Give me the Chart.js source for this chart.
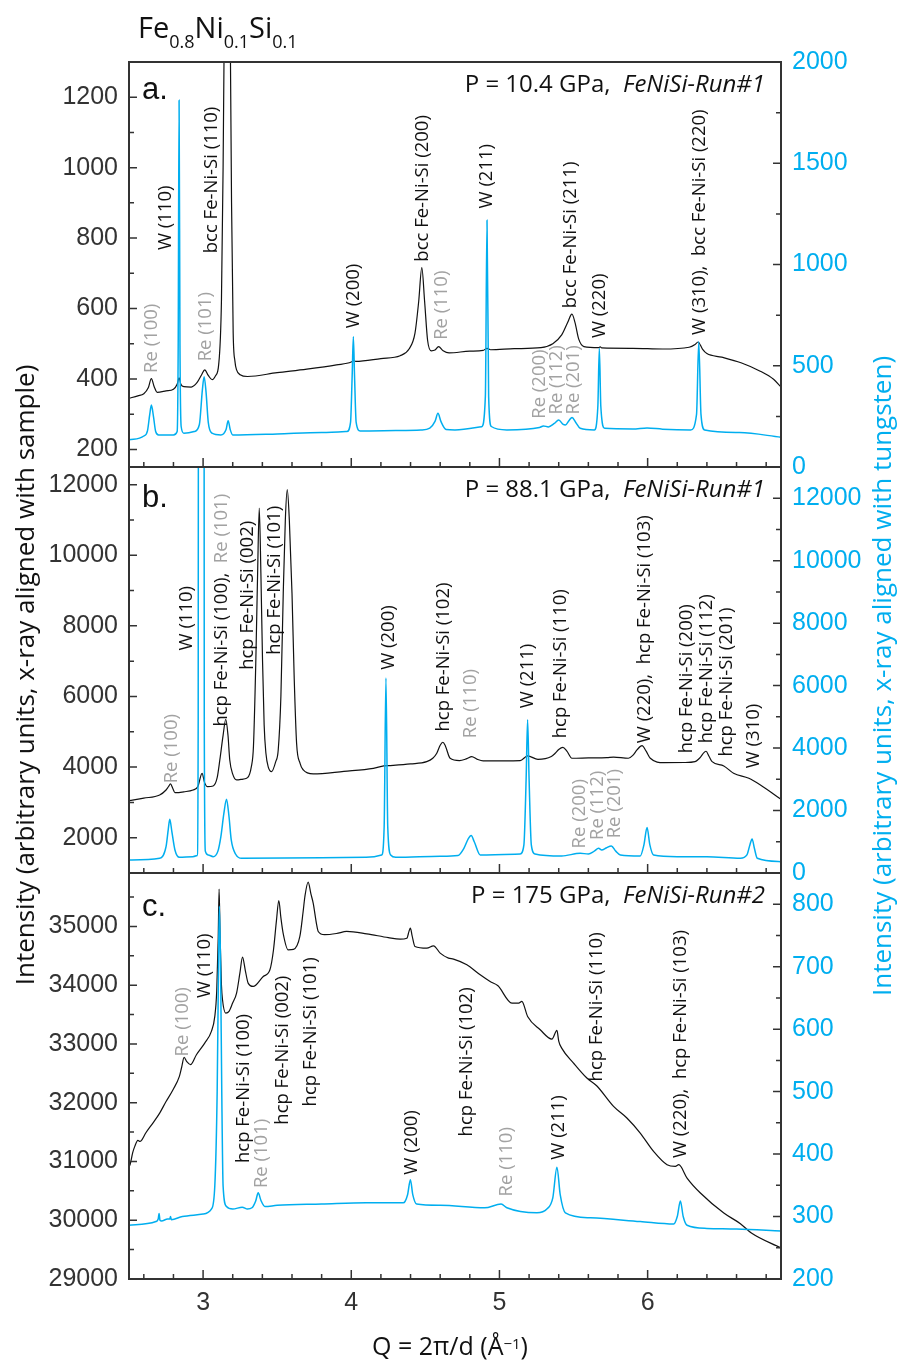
<!DOCTYPE html>
<html>
<head>
<meta charset="utf-8">
<script src="https://cdn.jsdelivr.net/npm/chart.js@4.4.0/dist/chart.umd.min.js"></script>
<style>
  html, body { margin: 0; padding: 0; background: #fff; }
  #page { position: relative; width: 897px; height: 1360px; overflow: hidden; background: #fff; font-family: "Open Sans", sans-serif; }
  canvas.pane { position: absolute; left: 0; }
  #title { position: absolute; left: 138px; top: 12px; font-size: 29px; line-height: 29px; color: #111; white-space: nowrap; }
  #title span { font-size: 18px; position: relative; top: 10px; }
  .ytitle { position: absolute; width: 720px; height: 26px; line-height: 26px; font-size: 26px; text-align: center; transform: rotate(-90deg); white-space: nowrap; }
  #xtitle { position: absolute; left: 250px; width: 400px; top: 1333px; font-size: 25px; line-height: 25px; text-align: center; color: #111; }
  #xtitle sup { font-size: 15px; position: relative; top: -2px; vertical-align: top; }
</style>
</head>
<body>
<div id="page">
  <canvas id="cvA" class="pane" width="897" height="465" style="top:32px"></canvas>
  <canvas id="cvB" class="pane" width="897" height="466" style="top:437px"></canvas>
  <canvas id="cvC" class="pane" width="897" height="517" style="top:843px"></canvas>
  <div id="title">Fe<span>0.8</span>Ni<span>0.1</span>Si<span>0.1</span></div>
  <div class="ytitle" style="left:-336px; top:662px; color:#111;">Intensity (arbitrary units, x-ray aligned with sample)</div>
  <div class="ytitle" style="left:521px; top:663px; color:#00aeef;">Intensity (arbitrary units, x-ray aligned with tungsten)</div>
  <div id="xtitle">Q = 2π/d (Å<sup>−1</sup>)</div>
</div>
<script>
// ---------- shared Q axis ----------
const qRange = [2.5, 6.9];
const qTicks = [3, 4, 5, 6];
const qMinorTicks = [2.6, 2.8, 3.2, 3.4, 3.6, 3.8, 4.2, 4.4, 4.6, 4.8, 5.2, 5.4, 5.6, 5.8, 6.2, 6.4, 6.6, 6.8];

// ---------- panel a: P = 10.4 GPa ----------
const qA_sample = [2.50, 2.56, 2.60, 2.63, 2.651, 2.67, 2.69, 2.75, 2.80, 2.825, 2.838, 2.85, 2.87, 2.92, 2.96, 2.99, 3.011, 3.035, 3.061, 3.085, 3.105, 3.124, 3.135, 3.145, 3.163, 3.183, 3.192, 3.203, 3.215, 3.226, 3.25, 3.30, 3.50, 3.70, 3.90, 4.00, 4.014, 4.03, 4.20, 4.33, 4.39, 4.43, 4.455, 4.476, 4.495, 4.515, 4.54, 4.565, 4.589, 4.62, 4.66, 4.80, 4.89, 4.916, 4.94, 5.10, 5.28, 5.36, 5.42, 5.46, 5.489, 5.51, 5.535, 5.57, 5.67, 5.68, 5.69, 5.90, 6.10, 6.28, 6.32, 6.34, 6.37, 6.40, 6.50, 6.63, 6.76, 6.85, 6.90];
const iA_sample = [345, 352, 358, 375, 401, 378, 362, 366, 371, 385, 403, 385, 378, 377, 390, 412, 426, 410, 398, 410, 440, 625, 1000, 1500, 2800, 1400, 900, 531, 450, 426, 412, 407, 418, 428, 440, 448, 452, 450, 458, 466, 485, 530, 620, 716, 620, 510, 480, 482, 492, 480, 474, 479, 481, 487, 483, 486, 489, 500, 525, 560, 584, 560, 513, 492, 489, 491, 488, 487, 485, 490, 498, 505, 485, 472, 462, 446, 422, 399, 377];
const qA_tungsten = [2.50, 2.60, 2.625, 2.64, 2.651, 2.665, 2.68, 2.70, 2.80, 2.825, 2.832, 2.838, 2.844, 2.852, 2.87, 2.94, 2.975, 2.995, 3.007, 3.02, 3.035, 3.06, 3.12, 3.155, 3.169, 3.183, 3.20, 3.50, 3.80, 3.97, 3.995, 4.006, 4.014, 4.022, 4.033, 4.06, 4.30, 4.47, 4.53, 4.565, 4.585, 4.605, 4.64, 4.70, 4.88, 4.905, 4.916, 4.927, 4.945, 5.05, 5.27, 5.297, 5.33, 5.37, 5.40, 5.43, 5.445, 5.47, 5.49, 5.515, 5.545, 5.64, 5.664, 5.674, 5.684, 5.71, 5.90, 5.996, 6.10, 6.29, 6.33, 6.345, 6.36, 6.385, 6.62, 6.90];
const iA_tungsten = [134, 153, 180, 260, 306, 250, 175, 158, 158, 175, 600, 1811, 600, 200, 167, 175, 210, 380, 446, 370, 220, 167, 158, 185, 229, 185, 158, 163, 170, 175, 220, 450, 643, 450, 220, 178, 180, 183, 192, 225, 265, 225, 185, 183, 199, 350, 1219, 350, 200, 183, 195, 203, 198, 215, 232, 210, 207, 230, 245, 220, 191, 183, 300, 586, 300, 191, 188, 193, 187, 183, 260, 619, 260, 183, 170, 147];
const aLeftRange = [150, 1300];
const aLeftTicks = [200, 400, 600, 800, 1000, 1200];
const aLeftMinor = [300, 500, 700, 900, 1100];
const aRightRange = [0, 2000];
const aRightTicks = [0, 500, 1000, 1500, 2000];
const aRightMinor = [250, 750, 1250, 1750];
const aLabels = [
  { t: 'Re (100)', q: 2.651, v: 417, c: 'g' },
  { t: 'W (110)', q: 2.746, v: 766, c: 'k' },
  { t: 'Re (101)', q: 3.016, v: 450, c: 'g' },
  { t: 'bcc Fe-Ni-Si (110)', q: 3.061, v: 757, c: 'k' },
  { t: 'W (200)', q: 4.014, v: 544, c: 'k' },
  { t: 'bcc Fe-Ni-Si (200)', q: 4.482, v: 733, c: 'k' },
  { t: 'Re (110)', q: 4.611, v: 511, c: 'g' },
  { t: 'W (211)', q: 4.916, v: 884, c: 'k' },
  { t: 'Re (200)', q: 5.269, v: 287, c: 'g' },
  { t: 'Re (112)', q: 5.388, v: 299, c: 'g' },
  { t: 'bcc Fe-Ni-Si (211)', q: 5.482, v: 601, c: 'k' },
  { t: 'Re (201)', q: 5.50, v: 299, c: 'g' },
  { t: 'W (220)', q: 5.676, v: 516, c: 'k' },
  { t: 'W (310),  bcc Fe-Ni-Si (220)', q: 6.351, v: 525, c: 'k' }
];

// ---------- panel b: P = 88.1 GPa ----------
const qB_sample = [2.50, 2.60, 2.707, 2.75, 2.767, 2.78, 2.795, 2.81, 2.87, 2.932, 2.965, 2.993, 3.01, 3.03, 3.068, 3.095, 3.113, 3.135, 3.153, 3.168, 3.18, 3.20, 3.226, 3.27, 3.30, 3.325, 3.34, 3.356, 3.368, 3.379, 3.39, 3.401, 3.412, 3.424, 3.44, 3.462, 3.49, 3.507, 3.525, 3.541, 3.555, 3.568, 3.582, 3.60, 3.615, 3.631, 3.655, 3.676, 3.743, 3.95, 4.149, 4.22, 4.25, 4.40, 4.509, 4.55, 4.577, 4.60, 4.618, 4.635, 4.667, 4.73, 4.78, 4.813, 4.85, 4.89, 5.14, 5.19, 5.26, 5.35, 5.376, 5.40, 5.428, 5.455, 5.489, 5.60, 5.725, 5.77, 5.87, 5.90, 5.928, 5.962, 5.99, 6.018, 6.11, 6.25, 6.32, 6.35, 6.394, 6.415, 6.435, 6.514, 6.58, 6.683, 6.761, 6.90];
const iB_sample = [3049, 3120, 3210, 3351, 3450, 3522, 3400, 3276, 3300, 3351, 3450, 3824, 3560, 3446, 3465, 3700, 4202, 4900, 5355, 4900, 4202, 3800, 3635, 3660, 3700, 4000, 4600, 7038, 9500, 11338, 9500, 7038, 5200, 4391, 4000, 3871, 4150, 4486, 6000, 8928, 11000, 11858, 11000, 8928, 6500, 4675, 4100, 3919, 3805, 3880, 3966, 4032, 4040, 4090, 4155, 4250, 4391, 4620, 4703, 4600, 4250, 4183, 4240, 4297, 4220, 4174, 4183, 4316, 4221, 4300, 4391, 4500, 4561, 4450, 4250, 4260, 4269, 4285, 4250, 4330, 4486, 4608, 4450, 4250, 4127, 4130, 4155, 4250, 4448, 4300, 4155, 4032, 3824, 3682, 3493, 3087];
const qB_tungsten = [2.50, 2.707, 2.75, 2.765, 2.775, 2.79, 2.81, 2.84, 2.93, 2.96, 2.967, 2.970, 2.988, 3.005, 3.008, 3.015, 3.035, 3.068, 3.10, 3.12, 3.14, 3.158, 3.175, 3.19, 3.22, 3.26, 3.80, 4.10, 4.205, 4.222, 4.234, 4.246, 4.266, 4.30, 4.60, 4.72, 4.76, 4.79, 4.809, 4.83, 4.87, 5.14, 5.165, 5.18, 5.19, 5.20, 5.215, 5.24, 5.42, 5.545, 5.60, 5.64, 5.669, 5.69, 5.72, 5.755, 5.785, 5.816, 5.95, 5.975, 5.996, 6.015, 6.04, 6.20, 6.40, 6.626, 6.67, 6.69, 6.705, 6.72, 6.74, 6.90];
const iB_tungsten = [417, 471, 845, 1400, 1722, 1300, 738, 503, 524, 560, 5000, 30000, 60000, 30000, 5000, 700, 578, 524, 700, 1166, 1900, 2364, 1800, 1059, 600, 471, 490, 503, 578, 1500, 6246, 1500, 578, 503, 535, 560, 791, 1100, 1198, 1000, 578, 610, 900, 3000, 4909, 3000, 900, 610, 545, 631, 610, 700, 791, 738, 800, 866, 700, 578, 545, 900, 1455, 900, 578, 524, 524, 471, 578, 900, 1091, 800, 471, 364];
const bLeftRange = [1000, 12500];
const bLeftTicks = [2000, 4000, 6000, 8000, 10000, 12000];
const bLeftMinor = [3000, 5000, 7000, 9000, 11000];
const bRightRange = [0, 13000];
const bRightTicks = [0, 2000, 4000, 6000, 8000, 10000, 12000];
const bRightMinor = [1000, 3000, 5000, 7000, 9000, 11000];
const bLabels = [
  { t: 'Re (100)', q: 2.786, v: 3540, c: 'g' },
  { t: 'W (110)', q: 2.888, v: 7302, c: 'k' },
  { parts: [['hcp Fe-Ni-Si (100),  ', 'k'], ['Re (101)', 'g']], q: 3.124, v: 5147 },
  { t: 'hcp Fe-Ni-Si (002)', q: 3.304, v: 6754, c: 'k' },
  { t: 'hcp Fe-Ni-Si (101)', q: 3.484, v: 7179, c: 'k' },
  { t: 'W (200)', q: 4.25, v: 6754, c: 'k' },
  { t: 'hcp Fe-Ni-Si (102)', q: 4.622, v: 5006, c: 'k' },
  { t: 'Re (110)', q: 4.807, v: 4816, c: 'g' },
  { t: 'W (211)', q: 5.19, v: 5667, c: 'k' },
  { t: 'hcp Fe-Ni-Si (110)', q: 5.415, v: 4816, c: 'k' },
  { t: 'Re (200)', q: 5.545, v: 1697, c: 'g' },
  { t: 'Re (112)', q: 5.662, v: 1934, c: 'g' },
  { t: 'Re (201)', q: 5.775, v: 1981, c: 'g' },
  { t: 'W (220),  hcp Fe-Ni-Si (103)', q: 5.978, v: 4675, c: 'k' },
  { t: 'hcp Fe-Ni-Si (200)', q: 6.266, v: 4391, c: 'k' },
  { t: 'hcp Fe-Ni-Si (112)', q: 6.401, v: 4675, c: 'k' },
  { t: 'hcp Fe-Ni-Si (201)', q: 6.536, v: 4297, c: 'k' },
  { t: 'W (310)', q: 6.716, v: 3966, c: 'k' }
];

// ---------- panel c: P = 175 GPa ----------
const qC_sample = [2.50, 2.51, 2.525, 2.539, 2.56, 2.575, 2.59, 2.613, 2.66, 2.707, 2.75, 2.797, 2.84, 2.855, 2.872, 2.89, 2.915, 2.955, 3.011, 3.056, 3.079, 3.092, 3.102, 3.108, 3.115, 3.124, 3.131, 3.153, 3.175, 3.20, 3.226, 3.248, 3.266, 3.285, 3.304, 3.338, 3.406, 3.451, 3.475, 3.495, 3.511, 3.525, 3.54, 3.574, 3.61, 3.653, 3.675, 3.687, 3.709, 3.728, 3.743, 3.765, 3.777, 3.82, 3.90, 3.969, 4.104, 4.25, 4.329, 4.375, 4.39, 4.399, 4.41, 4.43, 4.51, 4.555, 4.60, 4.656, 4.69, 4.78, 4.87, 4.937, 4.99, 5.084, 5.13, 5.151, 5.19, 5.275, 5.354, 5.388, 5.40, 5.42, 5.50, 5.59, 5.656, 5.77, 5.86, 5.95, 6.04, 6.131, 6.187, 6.21, 6.266, 6.356, 6.514, 6.626, 6.70, 6.90];
const iC_sample = [30900, 30974, 31150, 31257, 31359, 31342, 31380, 31484, 31650, 31824, 32020, 32221, 32448, 32600, 32771, 32700, 32647, 32817, 33015, 33214, 33469, 33900, 34800, 35635, 34800, 34000, 33752, 33526, 33554, 33700, 33866, 34200, 34478, 34250, 34036, 33979, 34149, 34263, 34600, 35100, 35442, 35150, 34887, 34603, 34610, 34830, 35250, 35510, 35754, 35550, 35397, 35050, 34915, 34860, 34880, 34915, 34875, 34810, 34785, 34800, 34920, 34972, 34850, 34660, 34631, 34671, 34546, 34461, 34444, 34348, 34178, 34064, 33990, 33696, 33696, 33724, 33469, 33242, 33083, 33231, 33050, 32930, 32675, 32420, 32289, 31938, 31740, 31484, 31172, 30945, 30917, 30945, 30718, 30463, 30123, 29941, 29782, 29527];
const qC_tungsten = [2.50, 2.682, 2.697, 2.703, 2.709, 2.72, 2.76, 2.775, 2.78, 2.786, 2.86, 3.00, 3.056, 3.079, 3.095, 3.104, 3.11, 3.118, 3.126, 3.135, 3.158, 3.20, 3.264, 3.30, 3.33, 3.355, 3.372, 3.39, 3.417, 3.50, 3.80, 4.10, 4.351, 4.38, 4.399, 4.415, 4.441, 4.60, 4.90, 5.011, 5.05, 5.253, 5.32, 5.36, 5.388, 5.41, 5.445, 5.614, 5.95, 6.176, 6.20, 6.221, 6.24, 6.266, 6.40, 6.60, 6.90];
const iC_tungsten = [286, 292, 296, 305, 294, 293, 296, 296, 300, 295, 300, 304, 312, 349, 500, 700, 797, 700, 500, 349, 316, 312, 315, 312, 314, 325, 338, 326, 316, 318, 320, 322, 322, 335, 359, 335, 320, 318, 314, 320, 314, 306, 312, 330, 379, 335, 306, 298, 292, 288, 300, 325, 300, 286, 281, 280, 277];
const cLeftRange = [29000, 35910];
const cLeftTicks = [29000, 30000, 31000, 32000, 33000, 34000, 35000];
const cLeftMinor = [29500, 30500, 31500, 32500, 33500, 34500, 35500];
const cRightRange = [200, 850];
const cRightTicks = [200, 300, 400, 500, 600, 700, 800];
const cRightMinor = [250, 350, 450, 550, 650, 750];
const cLabels = [
  { t: 'Re (100)', q: 2.865, v: 32788, c: 'g' },
  { t: 'W (110)', q: 3.011, v: 33781, c: 'k' },
  { t: 'hcp Fe-Ni-Si (100)', q: 3.277, v: 30974, c: 'k' },
  { t: 'Re (101)', q: 3.394, v: 30548, c: 'g' },
  { t: 'hcp Fe-Ni-Si (002)', q: 3.536, v: 31626, c: 'k' },
  { t: 'hcp Fe-Ni-Si (101)', q: 3.725, v: 31938, c: 'k' },
  { t: 'W (200)', q: 4.408, v: 30775, c: 'k' },
  { t: 'hcp Fe-Ni-Si (102)', q: 4.78, v: 31427, c: 'k' },
  { t: 'Re (110)', q: 5.046, v: 30406, c: 'g' },
  { t: 'W (211)', q: 5.399, v: 31030, c: 'k' },
  { t: 'hcp Fe-Ni-Si (110)', q: 5.658, v: 32363, c: 'k' },
  { t: 'W (220),  hcp Fe-Ni-Si (103)', q: 6.221, v: 31059, c: 'k' }
];

// ---------- styling ----------
const CYAN = '#00aeef';
const INK = '#111111';
const GREY = '#a2a2a2';
const AXIS_INK = '#333333';
const TICK_FONT = { family: '"Liberation Sans", Arial, sans-serif', size: 25 };
const LABEL_FONT = '18.5px "Open Sans", sans-serif';
const EDGE = 30;   // canvas margin above/below each plot box

function pairs(qs, vs) { return qs.map((q, i) => ({ x: q, y: vs[i] })); }

// frame, inward tick marks, peak labels, panel letter and pressure caption
const panelDecor = {
  id: 'panelDecor',
  afterDatasetsDraw(chart, args, o) {
    const ctx = chart.ctx, a = chart.chartArea;
    const xs = chart.scales.x, yl = chart.scales.yL, yr = chart.scales.yR;
    ctx.save();
    ctx.strokeStyle = AXIS_INK;
    ctx.lineWidth = 1.5;
    ctx.beginPath();
    const tick = (x0, y0, x1, y1) => { ctx.moveTo(x0, y0); ctx.lineTo(x1, y1); };
    qMinorTicks.forEach(v => { const p = xs.getPixelForValue(v); tick(p, a.bottom, p, a.bottom - 5); });
    qTicks.forEach(v => { const p = xs.getPixelForValue(v); tick(p, a.bottom, p, a.bottom - 9); });
    o.leftMinor.forEach(v => { const p = yl.getPixelForValue(v); tick(a.left, p, a.left + 5, p); });
    o.leftTicks.forEach(v => { const p = yl.getPixelForValue(v); tick(a.left, p, a.left + 8, p); });
    o.rightMinor.forEach(v => { const p = yr.getPixelForValue(v); tick(a.right, p, a.right - 5, p); });
    o.rightTicks.forEach(v => { const p = yr.getPixelForValue(v); tick(a.right, p, a.right - 8, p); });
    ctx.stroke();
    ctx.lineWidth = 2;
    ctx.strokeRect(a.left, a.top, a.right - a.left, a.bottom - a.top);

    // rotated peak labels, text starting at the given intensity
    ctx.font = LABEL_FONT;
    ctx.textBaseline = 'middle';
    ctx.textAlign = 'left';
    o.labels.forEach(l => {
      const px = xs.getPixelForValue(l.q), py = yl.getPixelForValue(l.v);
      ctx.save();
      ctx.translate(px, py);
      ctx.rotate(-Math.PI / 2);
      const parts = l.parts || [[l.t, l.c]];
      let off = 0;
      parts.forEach(([txt, c]) => {
        ctx.fillStyle = c === 'g' ? GREY : INK;
        ctx.fillText(txt, off, 0);
        off += ctx.measureText(txt).width;
      });
      ctx.restore();
    });

    // panel letter
    ctx.fillStyle = INK;
    ctx.textBaseline = 'alphabetic';
    ctx.font = '31px "Liberation Sans", Arial, sans-serif';
    ctx.fillText(o.letter, a.left + 13, a.top + o.letterDy);

    // pressure / run caption, right aligned
    const normal = '24px "Open Sans", sans-serif';
    const italic = 'italic 24px "Open Sans", sans-serif';
    ctx.font = italic;
    const wItal = ctx.measureText(o.run).width;
    ctx.font = normal;
    const wNorm = ctx.measureText(o.pressure).width;
    const xEnd = a.right - 16;
    ctx.fillText(o.pressure, xEnd - wItal - wNorm, a.top + 30);
    ctx.font = italic;
    ctx.fillText(o.run, xEnd - wItal, a.top + 30);
    ctx.restore();
  }
};

function makePanel(id, p) {
  const last = !!p.last;
  return new Chart(document.getElementById(id), {
    type: 'line',
    data: {
      datasets: [
        { data: pairs(p.qT, p.iT), yAxisID: 'yR', borderColor: CYAN, borderWidth: 1.5, pointRadius: 0, cubicInterpolationMode: 'monotone', order: 0 },
        { data: pairs(p.qS, p.iS), yAxisID: 'yL', borderColor: INK, borderWidth: 1.2, pointRadius: 0, cubicInterpolationMode: 'monotone', order: 1 }
      ]
    },
    options: {
      responsive: false,
      maintainAspectRatio: false,
      animation: false,
      events: [],
      layout: { padding: { top: EDGE, bottom: last ? 0 : EDGE, left: 0, right: 0 } },
      plugins: {
        legend: { display: false },
        tooltip: { enabled: false },
        panelDecor: p.decor
      },
      scales: {
        x: {
          type: 'linear', min: qRange[0], max: qRange[1], display: last,
          grid: { display: false, drawTicks: false }, border: { display: false },
          ticks: { font: TICK_FONT, color: AXIS_INK, padding: 9, autoSkip: false, maxRotation: 0, callback: v => String(v) },
          afterBuildTicks: s => { s.ticks = qTicks.map(v => ({ value: v })); },
          afterFit: s => { if (last) s.height = 81; }
        },
        yL: {
          type: 'linear', position: 'left', min: p.leftRange[0], max: p.leftRange[1],
          grid: { display: false, drawTicks: false }, border: { display: false },
          ticks: { font: TICK_FONT, color: AXIS_INK, padding: 11, autoSkip: false, callback: v => String(v) },
          afterBuildTicks: s => { s.ticks = p.decor.leftTicks.map(v => ({ value: v })); },
          afterFit: s => { s.width = 129; }
        },
        yR: {
          type: 'linear', position: 'right', min: p.rightRange[0], max: p.rightRange[1],
          grid: { display: false, drawTicks: false }, border: { display: false },
          ticks: { font: TICK_FONT, color: CYAN, padding: 11, autoSkip: false, callback: v => String(v) },
          afterBuildTicks: s => { s.ticks = p.decor.rightTicks.map(v => ({ value: v })); },
          afterFit: s => { s.width = 116; }
        }
      }
    },
    plugins: [panelDecor]
  });
}

makePanel('cvA', {
  qS: qA_sample, iS: iA_sample, qT: qA_tungsten, iT: iA_tungsten,
  leftRange: aLeftRange, rightRange: aRightRange,
  decor: { leftTicks: aLeftTicks, leftMinor: aLeftMinor, rightTicks: aRightTicks, rightMinor: aRightMinor,
           labels: aLabels, letter: 'a.', letterDy: 37, pressure: 'P = 10.4 GPa,  ', run: 'FeNiSi-Run#1' }
});
makePanel('cvB', {
  qS: qB_sample, iS: iB_sample, qT: qB_tungsten, iT: iB_tungsten,
  leftRange: bLeftRange, rightRange: bRightRange,
  decor: { leftTicks: bLeftTicks, leftMinor: bLeftMinor, rightTicks: bRightTicks, rightMinor: bRightMinor,
           labels: bLabels, letter: 'b.', letterDy: 40, pressure: 'P = 88.1 GPa,  ', run: 'FeNiSi-Run#1' }
});
makePanel('cvC', {
  qS: qC_sample, iS: iC_sample, qT: qC_tungsten, iT: iC_tungsten,
  leftRange: cLeftRange, rightRange: cRightRange, last: true,
  decor: { leftTicks: cLeftTicks, leftMinor: cLeftMinor, rightTicks: cRightTicks, rightMinor: cRightMinor,
           labels: cLabels, letter: 'c.', letterDy: 43, pressure: 'P = 175 GPa,  ', run: 'FeNiSi-Run#2' }
});
</script>
</body>
</html>
